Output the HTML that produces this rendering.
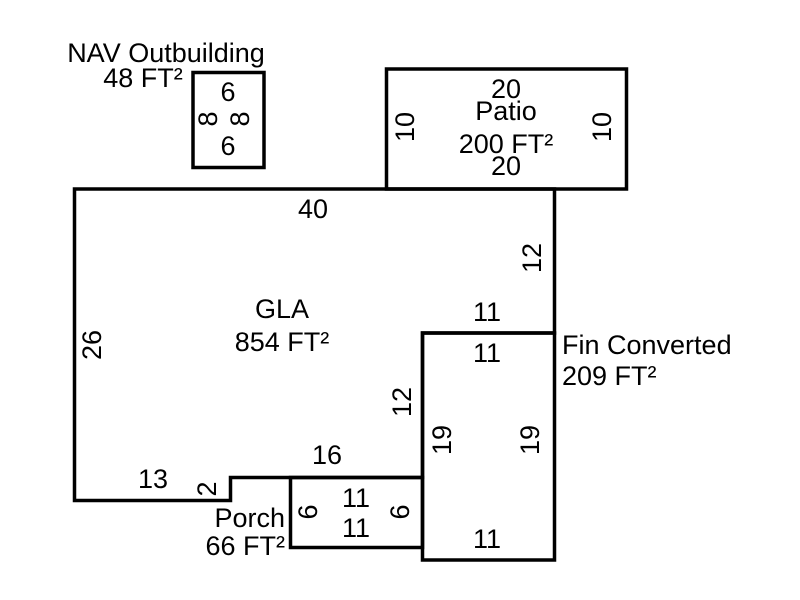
<!DOCTYPE html>
<html>
<head>
<meta charset="utf-8">
<style>
html,body{margin:0;padding:0;background:#fff;}
svg{display:block;}
text{font-family:"Liberation Sans",Arial,sans-serif;font-size:27px;fill:#000;}
</style>
</head>
<body>
<svg width="800" height="600" viewBox="0 0 800 600" xmlns="http://www.w3.org/2000/svg">
<g fill="none" stroke="#000" stroke-width="3.5" stroke-linejoin="miter">
  <!-- NAV outbuilding -->
  <rect x="193" y="72.5" width="71" height="95"/>
  <!-- Patio -->
  <rect x="386.5" y="69" width="240" height="120"/>
  <!-- GLA -->
  <polygon points="74.5,189 554.5,189 554.5,333 422.5,333 422.5,477.5 230.5,477.5 230.5,500.5 74.5,500.5"/>
  <!-- Fin Converted -->
  <rect x="422.5" y="333" width="132" height="227"/>
  <!-- Porch -->
  <rect x="290.5" y="477.5" width="132" height="70"/>
</g>

<!-- NAV labels -->
<text x="166" y="62" text-anchor="middle">NAV Outbuilding</text>
<text x="143" y="87" text-anchor="middle">48 FT²</text>
<text x="228" y="101" text-anchor="middle">6</text>
<text x="228" y="155" text-anchor="middle">6</text>
<text transform="translate(217,119) rotate(-90)" text-anchor="middle">8</text>
<text transform="translate(249,119) rotate(-90)" text-anchor="middle">8</text>

<!-- Patio labels -->
<text x="506" y="98" text-anchor="middle">20</text>
<text x="506" y="120" text-anchor="middle">Patio</text>
<text x="506" y="153" text-anchor="middle">200 FT²</text>
<text x="506" y="175" text-anchor="middle">20</text>
<text transform="translate(414,127) rotate(-90)" text-anchor="middle">10</text>
<text transform="translate(611,127) rotate(-90)" text-anchor="middle">10</text>

<!-- GLA labels -->
<text x="313" y="218" text-anchor="middle">40</text>
<text x="282" y="318" text-anchor="middle">GLA</text>
<text x="282" y="351" text-anchor="middle">854 FT²</text>
<text transform="translate(101,345) rotate(-90)" text-anchor="middle">26</text>
<text transform="translate(541,258) rotate(-90)" text-anchor="middle">12</text>
<text x="487" y="321" text-anchor="middle">11</text>
<text transform="translate(411,402) rotate(-90)" text-anchor="middle">12</text>
<text x="327" y="464" text-anchor="middle">16</text>
<text x="153" y="488" text-anchor="middle">13</text>
<text transform="translate(216,489) rotate(-90)" text-anchor="middle">2</text>

<!-- Fin Converted labels -->
<text x="562" y="354">Fin Converted</text>
<text x="562" y="385">209 FT²</text>
<text x="487" y="362" text-anchor="middle">11</text>
<text x="487" y="548" text-anchor="middle">11</text>
<text transform="translate(451,440) rotate(-90)" text-anchor="middle">19</text>
<text transform="translate(539,440) rotate(-90)" text-anchor="middle">19</text>

<!-- Porch labels -->
<text x="285" y="527" text-anchor="end">Porch</text>
<text x="285" y="555" text-anchor="end">66 FT²</text>
<text x="356" y="507" text-anchor="middle">11</text>
<text x="356" y="537" text-anchor="middle">11</text>
<text transform="translate(317,512) rotate(-90)" text-anchor="middle">6</text>
<text transform="translate(409,512) rotate(-90)" text-anchor="middle">6</text>
</svg>
</body>
</html>
